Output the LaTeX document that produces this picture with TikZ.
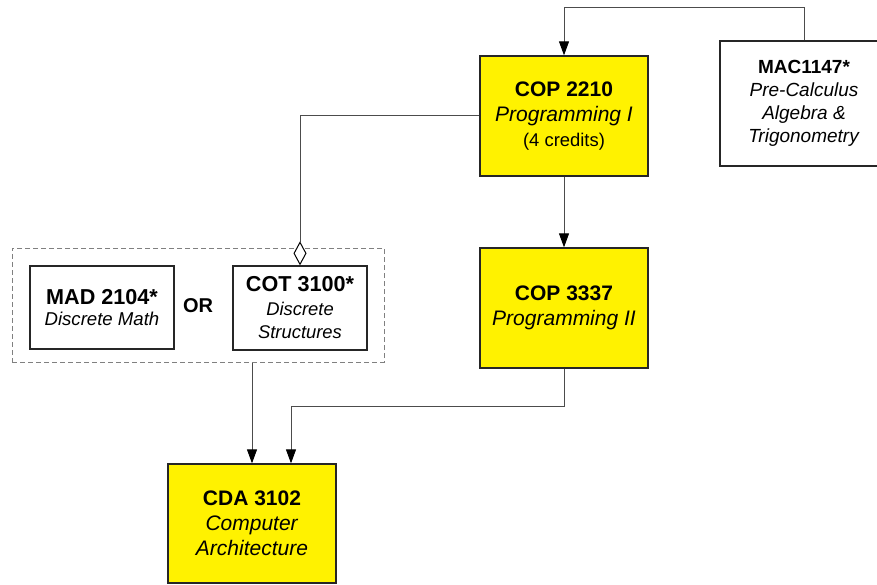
\documentclass[tikz,border=0pt]{standalone}
\usepackage{fontspec}
\setmainfont{Liberation Sans}
\usetikzlibrary{arrows.meta}
\newcommand\fsz[2]{\fontsize{#1}{#2}\selectfont}
\begin{document}
\begin{tikzpicture}[x=1pt,y=-1pt,
  course/.style={draw=black!85,line width=1.3pt,inner sep=0pt,align=center,fill=yellow},
  plainbox/.style={course,fill=white},
  conn/.style={draw=black!70,line width=1pt},
  arr/.style={conn,-{Triangle[length=14pt,width=10pt,color=black]}},
  grpbox/.style={draw=black!50,dash pattern=on 5pt off 3pt,line width=1pt,inner sep=0pt}]
\clip (0,0) rectangle (877,585);
\fill[white] (0,0) rectangle (877,585);
\node[grpbox,minimum width=372pt,minimum height=114pt] (grp) at (198,305) {};
\node[course,minimum width=168pt,minimum height=120pt,font=\fsz{21}{25}] (cop2210) at (564,116)
  {\textbf{COP 2210}\\\textit{Programming I}\\{\fsz{18.4}{25}(4 credits)}};
\node[plainbox,minimum width=168pt,minimum height=125pt,font=\fsz{19}{23}] (mac) at (804,103.5)
  {\textbf{MAC1147*}\\\textit{Pre-Calculus}\\\textit{Algebra \&}\\\textit{Trigonometry}};
\node[course,minimum width=168pt,minimum height=120pt,font=\fsz{21}{25}] (cop3337) at (564,308)
  {\textbf{COP 3337}\\\textit{Programming II}};
\node[plainbox,minimum width=144pt,minimum height=83pt,font=\fsz{18.6}{21}] (mad) at (102,307.5)
  {\textbf{\fsz{21.6}{21}MAD 2104*}\\\textit{Discrete Math}};
\node[plainbox,minimum width=134pt,minimum height=84pt,font=\fsz{18.4}{23.5}] (cot) at (300,308)
  {\textbf{\fsz{21.6}{23.5}COT 3100*}\\\textit{Discrete}\\\textit{Structures}};
\node[font=\fsz{20}{24}] (or) at (198,306) {\textbf{OR}};
\node[course,minimum width=168pt,minimum height=119pt,font=\fsz{21}{25}] (cda) at (252,523.5)
  {\textbf{CDA 3102}\\\textit{Computer}\\\textit{Architecture}};
\coordinate (ytop) at (0,8);
\coordinate (ymid) at (0,406);
\draw[arr] (mac.north) -- (mac.north |- ytop) -| (cop2210.north);
\draw[arr] (cop2210.south) -- (cop3337.north);
\draw[conn,-{Diamond[fill=white,length=24pt,width=13pt,color=black]}] (cop2210.west) -| (cot.north);
\draw[arr] (grp.south -| cda.north) -- (cda.north);
\draw[arr] (cop3337.south) -- (cop3337.south |- ymid) -| ([xshift=39pt]cda.north);
\end{tikzpicture}
\end{document}
